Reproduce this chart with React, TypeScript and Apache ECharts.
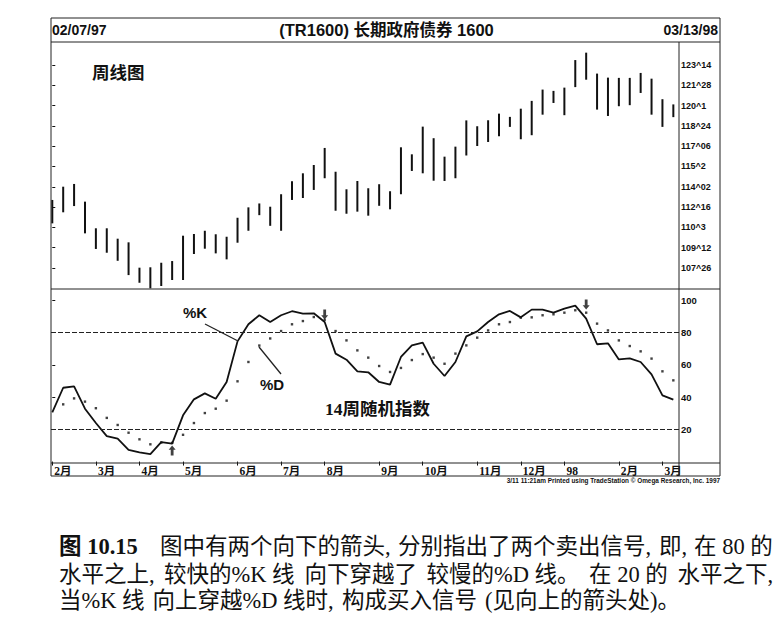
import React, { useEffect, useRef } from 'react';
import * as echarts from 'echarts';

// weekly bars, 02/07/97 .. 03/13/98 (index 0..57)
const highs = [113.05, 114.07, 114.28, 112.92, 110.87, 110.87, 110.07, 109.79, 107.84, 107.87,
  108.22, 108.35, 110.30, 110.43, 110.68, 110.41, 110.22, 111.68, 112.48, 112.78,
  112.53, 113.49, 114.49, 115.10, 115.74, 117.05, 115.22, 113.87, 114.51, 113.95,
  114.26, 113.72, 117.10, 116.56, 118.69, 117.80, 116.38, 117.15, 119.17, 118.72,
  119.18, 119.69, 119.44, 120.07, 120.67, 121.54, 121.44, 121.69, 123.81, 124.38,
  122.77, 122.46, 122.44, 122.44, 122.82, 122.38, 120.80, 120.40];
const lows = [111.25, 112.10, 112.58, 110.48, 109.28, 108.99, 108.37, 107.27, 106.68, 106.25,
  106.43, 106.89, 106.89, 108.89, 109.30, 108.94, 108.48, 109.76, 110.68, 111.88,
  111.06, 110.68, 113.05, 113.20, 113.82, 114.72, 112.22, 111.99, 112.15, 111.84,
  112.60, 112.33, 113.49, 115.28, 115.10, 114.53, 114.51, 114.72, 116.47, 117.20,
  117.51, 117.95, 118.67, 117.72, 118.03, 119.61, 120.51, 119.57, 121.73, 122.30,
  120.00, 119.51, 120.26, 120.34, 121.28, 119.61, 118.67, 119.42];
const kValues = [30.5, 45.8, 46.7, 32.8, 23.9, 15.8, 14.2, 7.3, 5.7, 4.6,
  12.1, 11.1, 28.7, 38.6, 42.3, 39.0, 49.4, 74.6, 85.2, 90.8,
  86.6, 90.8, 93.3, 91.8, 92.0, 86.6, 67.0, 63.2, 56.0, 55.4,
  49.4, 47.7, 64.9, 72.1, 73.8, 60.7, 53.1, 61.8, 77.7, 80.8,
  86.6, 91.4, 93.5, 89.5, 94.3, 94.3, 92.4, 94.9, 96.8, 88.7,
  72.8, 73.4, 63.4, 64.1, 61.8, 54.1, 41.1, 38.4];
const dValues = [null, 35.5, 39.2, 37.2, 33.1, 27.1, 22.7, 17.9, 13.8, 10.7,
  11.8, 11.6, 16.6, 23.9, 30.1, 32.8, 37.8, 49.8, 61.8, 72.0,
  76.4, 81.0, 85.2, 87.2, 89.7, 88.0, 81.0, 75.2, 69.0, 64.5,
  59.3, 55.6, 58.1, 63.0, 66.7, 64.5, 60.7, 67.0, 72.1, 76.9,
  81.4, 85.2, 86.6, 89.3, 89.5, 90.8, 91.4, 92.4, 93.9, 92.4,
  85.6, 81.4, 75.2, 71.7, 68.4, 63.9, 56.0, 50.4];

const monthIdx = [0, 4, 8, 12, 17, 21, 25, 30, 34, 39, 43, 47, 52, 56];
const monthLabels = ['2月', '3月', '4月', '5月', '6月', '7月', '8月', '9月', '10月', '11月', '12月', '98', '2月', '3月'];

const priceTickValues = [107.8125, 109.375, 110.9375, 112.5, 114.0625, 115.625, 117.1875, 118.75, 120.3125, 121.875, 123.4375];
const priceTickLabels = ['107^26', '109^12', '110^3', '112^16', '114^02', '115^2', '117^06', '118^24', '120^1', '121^28', '123^14'];
const stochTickValues = [20, 40, 60, 80, 100];
const stochLevels = [80, 20];

const arrows = [
  { idx: 11, v: 6.8, dir: 'up' },
  { idx: 25, v: 91.3, dir: 'down' },
  { idx: 49, v: 97.5, dir: 'down' },
];

const UP = 'path://M5,0 L10,5 L7,5 L7,12 L3,12 L3,5 L0,5 Z';
const DOWN = 'path://M3,0 L7,0 L7,7 L10,7 L5,12 L0,7 L3,7 Z';

const SANS = "'Liberation Sans', 'Noto Sans CJK SC', sans-serif";
const SERIF = "'Liberation Serif', 'Noto Sans CJK SC', serif";
const CJK = "'Noto Sans CJK SC', sans-serif";
const INK = '#111';

function txt(text: string, x: number, y: number, size: number, family: string, weight: any = 'normal', align = 'left') {
  return {
    type: 'text', x, y, z: 20,
    style: { text, fill: INK, fontSize: size, fontFamily: family, fontWeight: weight, align, verticalAlign: 'middle' },
  };
}
function ln(x1: number, y1: number, x2: number, y2: number, w = 1, dash: any = null) {
  return {
    type: 'line', z: 15, silent: true,
    shape: { x1, y1, x2, y2 },
    style: { stroke: '#222', lineWidth: w, lineDash: dash },
  };
}

export default function App() {
  const ref = useRef<HTMLDivElement>(null);
  useEffect(() => {
    if (!ref.current) return;
    const chart = echarts.init(ref.current, null, { renderer: 'svg' });
    const X_MIN = -0.119;
    const X_MAX = 57.52;
    const cs = 22.5;
    const option: any = {
      animation: false,
      backgroundColor: '#fff',
      grid: [
        { left: 51, top: 42, width: 628, height: 247 },
        { left: 51, top: 289, width: 628, height: 174 },
      ],
      xAxis: [
        { gridIndex: 0, type: 'value', min: X_MIN, max: X_MAX, show: false },
        {
          gridIndex: 1, type: 'value', min: X_MIN, max: X_MAX,
          axisLine: { show: false }, splitLine: { show: false },
          axisTick: { show: true, customValues: monthIdx, length: 4, lineStyle: { color: INK, width: 1 } },
          axisLabel: {
            customValues: monthIdx,
            formatter: (v: number) => monthLabels[monthIdx.indexOf(Math.round(v))] ?? '',
            align: 'left', margin: 2, padding: [0, 0, 0, 2],
            fontSize: 11.5, fontWeight: 'bold', color: INK, fontFamily: SERIF,
          },
        },
      ],
      yAxis: [
        {
          gridIndex: 0, type: 'value', position: 'right', min: 106.2, max: 125.2,
          splitLine: { show: false }, axisLine: { show: false },
          axisTick: { show: true, customValues: priceTickValues, length: 3, lineStyle: { color: INK } },
          axisLabel: {
            customValues: priceTickValues,
            formatter: (v: number) => {
              const k = priceTickValues.findIndex((t) => Math.abs(t - v) < 0.01);
              return k >= 0 ? priceTickLabels[k] : '';
            },
            margin: 2, fontSize: 9, fontWeight: 'bold', color: INK, fontFamily: SANS,
          },
        },
        {
          gridIndex: 1, type: 'value', position: 'right', min: -0.9, max: 107.1,
          splitLine: { show: false }, axisLine: { show: false },
          axisTick: { show: true, customValues: stochTickValues, length: 3, lineStyle: { color: INK } },
          axisLabel: {
            customValues: stochTickValues,
            margin: 2, fontSize: 9.5, fontWeight: 'bold', color: INK, fontFamily: SANS,
          },
        },
      ],
      series: [
        {
          type: 'custom', xAxisIndex: 0, yAxisIndex: 0,
          data: highs.map((h, i) => [i, h, lows[i]]),
          encode: { x: 0, y: [1, 2] },
          renderItem: (_p: any, api: any) => {
            const i = api.value(0);
            const a = api.coord([i, api.value(1)]);
            const b = api.coord([i, api.value(2)]);
            return {
              type: 'line',
              shape: { x1: a[0], y1: a[1], x2: b[0], y2: b[1] },
              style: { stroke: INK, lineWidth: 2 },
            };
          },
        },
        {
          type: 'line', xAxisIndex: 1, yAxisIndex: 1,
          data: kValues.map((v, i) => [i, v]),
          showSymbol: false, lineStyle: { color: INK, width: 1.8 },
          markLine: {
            silent: true, symbol: 'none', label: { show: false },
            lineStyle: { color: '#222', type: [5, 2], width: 1 },
            data: stochLevels.map((v) => ({ yAxis: v })),
          },
        },
        {
          type: 'scatter', xAxisIndex: 1, yAxisIndex: 1,
          data: dValues.map((v, i) => (v == null ? null : [i, v])).filter((d) => d),
          symbol: 'rect', symbolSize: 2.4, itemStyle: { color: INK },
        },
        {
          type: 'scatter', xAxisIndex: 1, yAxisIndex: 1,
          data: arrows.map((a) => ({ value: [a.idx, a.v], symbol: a.dir === 'up' ? UP : DOWN, symbolSize: [7, 10] })),
          itemStyle: { color: INK },
        },
      ],
      graphic: [
        { type: 'rect', z: 15, silent: true, shape: { x: 51, y: 18, width: 669, height: 458 }, style: { fill: 'none', stroke: '#222', lineWidth: 1 } },
        ln(51, 42, 720, 42),
        ln(51, 289, 720, 289),
        ln(51, 463, 720, 463),
        ln(679, 42, 679, 476),
        txt('02/07/97', 52, 30, 14, SANS, 'bold'),
        txt('(TR1600) 长期政府债券 1600', 386.5, 30, 16.5, SANS, 'bold', 'center'),
        txt('03/13/98', 718, 30, 14, SANS, 'bold', 'right'),
        txt('周线图', 92, 71, 17.5, CJK, 'bold'),
        txt('%K', 183, 312.5, 15, SANS, 'bold'),
        txt('%D', 260, 384.5, 15, SANS, 'bold'),
        ln(205, 324, 238, 341, 1.3),
        ln(259, 347, 281, 374, 1.3),
        txt('14周随机指数', 325, 408.7, 17.5, SERIF, 'bold'),
        txt('3/11 11:21am Printed using TradeStation © Omega Research, Inc. 1997', 720, 480.5, 6.4, SANS, 'bold', 'right'),
        // caption
        txt('图 10.15', 59, 546, cs, SERIF, 'bold'),
        txt('图中有两个向下的箭头,', 160, 546, cs, SERIF),
        txt('分别指出了两个卖出信号,', 398, 546, cs, SERIF),
        txt('即,', 659, 546, cs, SERIF),
        txt('在 80 的', 694, 546, cs, SERIF),
        txt('水平之上,', 59, 574, cs, SERIF),
        txt('较快的%K 线', 164, 574, cs, SERIF),
        txt('向下穿越了', 304.5, 574, cs, SERIF),
        txt('较慢的%D 线。', 426.5, 574, cs, SERIF),
        txt('在 20 的', 589, 574, cs, SERIF),
        txt('水平之下,', 677.5, 574, cs, SERIF),
        txt('当%K 线', 59, 600, cs, SERIF),
        txt('向上穿越%D 线时,', 152.5, 600, cs, SERIF),
        txt('构成买入信号', 342, 600, cs, SERIF),
        txt('(见向上的箭头处)。', 485, 600, cs, SERIF),
      ],
    };
    chart.setOption(option);
    return () => chart.dispose();
  }, []);
  return <div ref={ref} style={{ position: 'absolute', left: 0, top: 0, width: 781, height: 640, background: '#fff' }} />;
}
